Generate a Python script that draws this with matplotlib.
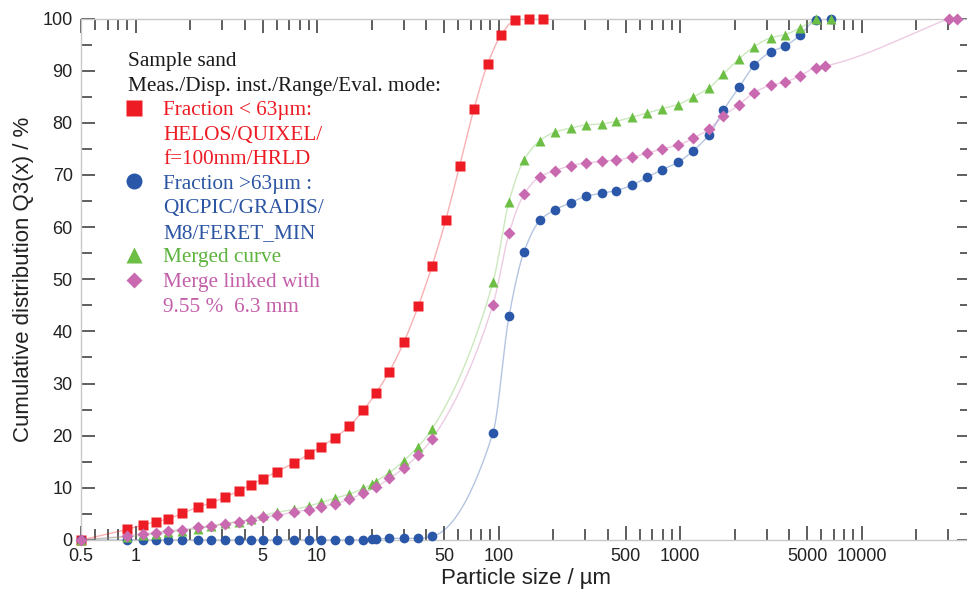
import numpy as np
import matplotlib
matplotlib.use("Agg")
import matplotlib.pyplot as plt
from matplotlib.lines import Line2D
from matplotlib.ticker import FixedLocator, FixedFormatter, NullFormatter

# ---------------- data ----------------
x_helos = [0.5, 0.9, 1.1, 1.3, 1.5, 1.8, 2.2, 2.6, 3.1, 3.7, 4.3, 5.0, 6.0, 7.5, 9.0,
           10.5, 12.5, 15, 18, 21, 25, 30, 36, 43, 51, 61, 73, 87, 103, 123, 147, 175]
y_fine = [0, 2.05, 2.9, 3.5, 4.0, 5.1, 6.3, 7.1, 8.2, 9.4, 10.6, 11.7, 13.1, 14.8, 16.5,
          17.9, 19.6, 21.8, 24.9, 28.1, 32.3, 37.9, 44.8, 52.6, 61.3, 71.8, 82.6, 91.3,
          96.8, 99.7, 100, 100]

x_low = [0.5, 0.9, 1.1, 1.3, 1.5, 1.8, 2.2, 2.6, 3.1, 3.7, 4.3, 5.0, 6.0, 7.5, 9.0,
         10.5, 12.5, 15, 18, 20, 21, 25, 30, 36, 43]
x_high = [93, 114, 138, 169, 204, 250, 302, 370, 444, 546, 660, 793, 971, 1173,
          1442, 1729, 2118, 2553, 3154, 3779, 4570, 5597, 6745]

y_coarse_low = [0, 0, 0, 0, 0, 0, 0, 0, 0, 0, 0, 0, 0, 0, 0,
                0, 0, 0, 0, 0.1, 0.2, 0.3, 0.3, 0.3, 0.7]
y_coarse_high = [20.5, 42.9, 55.3, 61.3, 63.3, 64.7, 65.9, 66.5, 67.0, 68.1, 69.6, 71.0,
                 72.4, 74.6, 77.7, 82.4, 86.9, 91.0, 93.6, 94.7, 96.8, 99.7, 100]

y_merged_low = [0, 0.6, 0.9, 1.2, 1.5, 1.8, 2.2, 2.6, 3.2, 3.5, 4.0, 4.7, 5.3, 5.9, 6.5,
                7.2, 8.0, 8.8, 9.9, 10.7, 11.2, 12.9, 15.2, 17.9, 21.3]
y_merged_high = [49.4, 64.9, 72.9, 76.6, 78.2, 79.0, 79.6, 79.8, 80.3, 81.1, 81.9, 82.7,
                 83.5, 84.9, 86.7, 89.4, 92.3, 94.6, 96.3, 96.9, 98.2, 100, 100]

x_linked_low = [0.5, 0.9, 1.1, 1.3, 1.5, 1.8, 2.2, 2.6, 3.1, 3.7, 4.3, 5.0, 6.0, 7.5, 9.0,
                10.5, 12.5, 15, 18, 21, 25, 30, 36, 43]
y_linked_low = [0, 0.8, 1.2, 1.4, 1.8, 2.0, 2.4, 2.7, 3.1, 3.5, 3.9, 4.4, 4.7, 5.4, 5.8,
                6.4, 6.9, 7.8, 9.0, 10.1, 11.8, 13.8, 16.3, 19.4]
x_linked_high = [93, 114, 138, 169, 204, 250, 302, 370, 444, 546, 660, 793, 971, 1173,
                 1442, 1729, 2118, 2553, 3154, 3779, 4570, 5597, 6300, 30300, 33300]
y_linked_high = [45.1, 58.8, 66.3, 69.7, 70.8, 71.8, 72.3, 72.6, 72.9, 73.4, 74.2, 75.0,
                 75.7, 77.0, 78.8, 81.3, 83.5, 85.8, 87.2, 87.8, 89.0, 90.6, 90.9, 100, 100]

major_ticks = [0.5, 1, 5, 10, 50, 100, 500, 1000, 5000, 10000]
major_labels = ["0.5", "1", "5", "10", "50", "100", "500", "1000", "5000", "10000"]
y_ticks = [0, 10, 20, 30, 40, 50, 60, 70, 80, 90, 100]

legend_title = "Sample sand\nMeas./Disp. inst./Range/Eval. mode:"
legend_rows = ["Fraction < 63µm:", "HELOS/QUIXEL/", "f=100mm/HRLD",
               "Fraction >63µm :", "QICPIC/GRADIS/", "M8/FERET_MIN",
               "Merged curve", "Merge linked with", "9.55 %  6.3 mm"]

# ---------------- style ----------------
RED = "#ED1C24"
BLUE = "#2A57A8"
GREEN = "#6CBE45"
PINK = "#C96AB0"
RED_T = "#ED1C24"
BLUE_T = "#2B55A3"
GREEN_T = "#5DB33E"
PINK_T = "#C45FA9"

SANS = ["Liberation Sans", "DejaVu Sans"]
SERIF = ["Liberation Serif", "DejaVu Serif"]


def pchip(xs, ys, xn):
    """cubic Hermite curve used only to draw the smooth connecting line."""
    h = np.diff(xs)
    d = np.diff(ys) / h
    n = len(xs)
    m = np.zeros(n)
    for k in range(1, n - 1):
        if d[k - 1] * d[k] > 0:
            w1 = 2 * h[k] + h[k - 1]
            w2 = h[k] + 2 * h[k - 1]
            m[k] = (w1 + w2) / (w1 / d[k - 1] + w2 / d[k])
        elif d[k] == 0 and d[k - 1] > 0:
            m[k] = d[k - 1]
    m[0] = d[0]
    m[-1] = d[-1]
    idx = np.clip(np.searchsorted(xs, xn) - 1, 0, n - 2)
    t = (xn - xs[idx]) / h[idx]
    h00 = 2 * t**3 - 3 * t**2 + 1
    h10 = t**3 - 2 * t**2 + t
    h01 = -2 * t**3 + 3 * t**2
    h11 = t**3 - t**2
    return h00 * ys[idx] + h10 * h[idx] * m[idx] + h01 * ys[idx + 1] + h11 * h[idx] * m[idx + 1]


def smooth_line(ax, xv, yv, color):
    lx = np.log10(np.asarray(xv, float))
    yy = np.asarray(yv, float)
    xn = np.linspace(lx[0], lx[-1], 1500)
    yn = np.minimum(pchip(lx, yy, xn), 100)
    ax.plot(10 ** xn, yn, color=color, lw=1.0, alpha=0.35, zorder=2)


fig = plt.figure(figsize=(9.67, 5.99), dpi=100)
ax = fig.add_axes([81 / 967, 59 / 599, 890 / 967, 521.5 / 599])
ax.set_xscale("log")

x_coarse = x_low + x_high
y_coarse = y_coarse_low + y_coarse_high
x_merged = x_low + x_high
y_merged = y_merged_low + y_merged_high
x_linked = x_linked_low + x_linked_high
y_linked = y_linked_low + y_linked_high

smooth_line(ax, x_helos, y_fine, RED)
smooth_line(ax, x_coarse, y_coarse, BLUE)
smooth_line(ax, x_merged, y_merged, GREEN)
smooth_line(ax, x_linked, y_linked, PINK)

ax.plot(x_helos, y_fine, ls="none", marker="s", ms=7.0, color=RED, mec="none", zorder=3, clip_on=False)
ax.plot(x_coarse, y_coarse, ls="none", marker="o", ms=7.0, color=BLUE, mec="none", zorder=3, clip_on=False)
ax.plot(x_merged, y_merged, ls="none", marker="^", ms=7.6, color=GREEN, mec="none", zorder=4, clip_on=False)
ax.plot(x_linked, y_linked, ls="none", marker="D", ms=5.8, color=PINK, mec="none", zorder=5, clip_on=False)

ax.set_xlim(0.5, 40000)
ax.set_ylim(0, 100)

minor = []
for dec in [0.1, 1, 10, 100, 1000, 10000]:
    for k in range(2, 10):
        v = k * dec
        if 0.5 < v < 40000 and k != 5:
            minor.append(v)
ax.xaxis.set_major_locator(FixedLocator(major_ticks))
ax.xaxis.set_major_formatter(FixedFormatter(major_labels))
ax.xaxis.set_minor_locator(FixedLocator(minor))
ax.xaxis.set_minor_formatter(NullFormatter())
ax.yaxis.set_major_locator(FixedLocator(y_ticks))
ax.yaxis.set_minor_locator(FixedLocator([5, 15, 25, 35, 45, 55, 65, 75, 85, 95]))

ax.tick_params(which="both", direction="in", top=True, right=True, color="#333333",
               width=1.1, labelsize=13)
ax.tick_params(which="major", length=10)
ax.tick_params(which="minor", length=7.7)
ax.tick_params(axis="x", which="major", pad=6)
ax.tick_params(axis="y", which="major", pad=6)
for lab in ax.get_xticklabels() + ax.get_yticklabels():
    lab.set_family(SANS)
    lab.set_color("#222222")

for s in ["left", "bottom", "top"]:
    ax.spines[s].set_color("#c8c8c8")
    ax.spines[s].set_linewidth(1.0)
ax.spines["right"].set_visible(False)

ax.set_xlabel("Particle size / µm", family=SANS, fontsize=16, color="#222222", labelpad=2)
ax.set_ylabel("Cumulative distribution Q3(x) / %", family=SANS, fontsize=16, color="#222222", labelpad=6)

blank = Line2D([], [], ls="none")
handles = [
    Line2D([], [], ls="none", marker="s", ms=11.5, color=RED, mec="none"), blank, blank,
    Line2D([], [], ls="none", marker="o", ms=11.5, color=BLUE, mec="none"), blank, blank,
    Line2D([], [], ls="none", marker="^", ms=11.5, color=GREEN, mec="none"),
    Line2D([], [], ls="none", marker="D", ms=8.2, color=PINK, mec="none"), blank,
]
colors = [RED_T, RED_T, RED_T, BLUE_T, BLUE_T, BLUE_T, GREEN_T, PINK_T, PINK_T]
leg = ax.legend(handles, legend_rows, loc="upper left",
                bbox_to_anchor=(128 / 967, 1 - 52 / 599), bbox_transform=fig.transFigure,
                frameon=False, borderpad=0, borderaxespad=0, handlelength=0.6,
                handletextpad=1.05, labelspacing=0.22, labelcolor=colors,
                prop={"family": SERIF, "size": 15.3},
                title=legend_title, title_fontproperties={"family": SERIF, "size": 15.3},
                alignment="left")
leg.get_title().set_color("#1a1a1a")
leg.get_title().set_linespacing(1.4)

fig.savefig("out.png", dpi=100)
